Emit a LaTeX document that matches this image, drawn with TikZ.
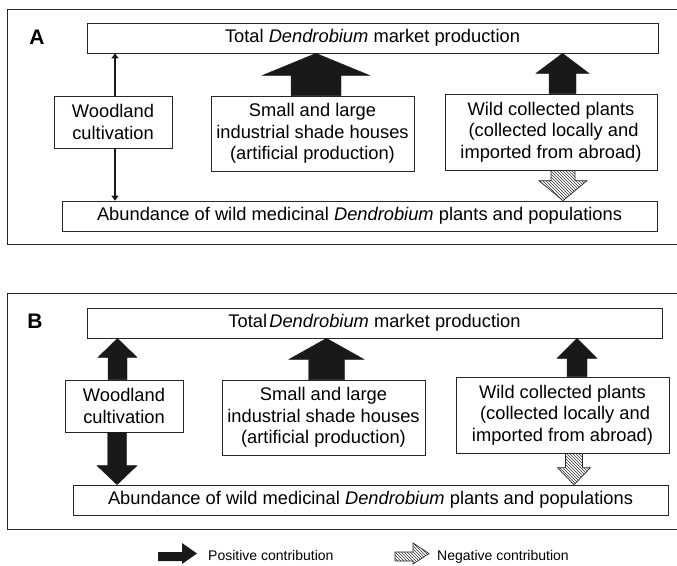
\documentclass[tikz,border=0pt]{standalone}
\usepackage{fontspec}
\setmainfont{Liberation Sans}
\usetikzlibrary{calc,patterns,arrows.meta}
\tikzset{
  box/.style={draw=black!85, line width=0.7pt, inner sep=0pt, align=center,
    font=\fontsize{18.3}{21.5}\selectfont},
  frame/.style={draw=black!85, line width=0.9pt},
  posarrow/.style={fill=black!90, draw=black!90, line width=0.4pt, line join=miter},
  negarrow/.style={draw=black!85, line width=0.7pt, fill=white, pattern=north west lines, pattern color=black!80, line join=miter},
  thinarrow/.style={draw=black!90, line width=2.6pt, -{Triangle[width=7pt,length=5pt]}},
  panel/.style={font=\fontsize{21}{24}\selectfont\bfseries},
  legendtext/.style={font=\fontsize{14}{16}\selectfont, anchor=base west, inner sep=0pt}
}
% #1 style, #2 x, #3 tail point, #4 tip point, #5 shaft half width, #6 head half width, #7 head length
\newcommand\blockarrow[7]{%
  \path[#1] let \p1=(#3), \p2=(#4), \n1={sign(\y2-\y1)} in
   ({#2pt-#5pt},\y1) -- ({#2pt-#5pt},{\y2-\n1*#7pt}) -- ({#2pt-#6pt},{\y2-\n1*#7pt})
   -- (#2pt,\y2) -- ({#2pt+#6pt},{\y2-\n1*#7pt}) -- ({#2pt+#5pt},{\y2-\n1*#7pt})
   -- ({#2pt+#5pt},\y1) -- cycle;}
\begin{document}
\begin{tikzpicture}[x=1pt,y=-1pt]
\useasboundingbox (0,0) rectangle (677,565);
% ---------- Panel A ----------
\draw[frame] (680,9) -- (7,9) -- (7,244) -- (680,244);
\node[panel] (labA) at (37,37.5) {A};
\node[box, minimum width=571, minimum height=30] (topA) at (372.5,38)
  {Total \textit{Dendrobium} market production};
\node[box, minimum width=118, minimum height=52] (woodA) at (113,122)
  {Woodland\\cultivation};
\node[box, minimum width=203, minimum height=75] (smallA) at (312.5,133.5)
  {Small and large\\industrial shade houses\\(artificial production)};
\node[box, minimum width=212, minimum height=76] (wildA) at (551,132)
  {Wild collected plants\\\ (collected locally and\\imported from abroad)};
\node[box, minimum width=595, minimum height=30] (botA) at (359.5,216)
  {Abundance of wild medicinal \textit{Dendrobium} plants and populations};
\draw[thinarrow] (woodA.north -| 115,0) -- (topA.south -| 115,0);
\draw[thinarrow] (woodA.south -| 115,0) -- (botA.north -| 115,0);
\blockarrow{posarrow}{316}{smallA.north}{topA.south}{25}{53.5}{22}
\blockarrow{posarrow}{562.5}{wildA.north}{topA.south}{13.5}{26.5}{20}
\blockarrow{negarrow}{563}{wildA.south}{botA.north}{12}{24}{20}
% ---------- Panel B ----------
\draw[frame] (680,293) -- (7,293) -- (7,529) -- (680,529);
\node[panel] (labB) at (35,321) {B};
\node[box, minimum width=575, minimum height=30] (topB) at (374.5,323)
  {Total\hspace{0.12em}\textit{Dendrobium} market production};
\node[box, minimum width=118, minimum height=52] (woodB) at (124,406)
  {Woodland\\cultivation};
\node[box, minimum width=203, minimum height=75] (smallB) at (323.5,417.5)
  {Small and large\\industrial shade houses\\(artificial production)};
\node[box, minimum width=213, minimum height=76] (wildB) at (562.5,415)
  {Wild collected plants\\\ (collected locally and\\imported from abroad)};
\node[box, minimum width=595, minimum height=30] (botB) at (370.5,500)
  {Abundance of wild medicinal \textit{Dendrobium} plants and populations};
\blockarrow{posarrow}{117.5}{woodB.north}{topB.south}{9.5}{19.5}{19}
\blockarrow{posarrow}{117}{woodB.south}{botB.north}{9.5}{20}{19}
\blockarrow{posarrow}{326.5}{smallB.north}{topB.south}{18}{37.5}{21}
\blockarrow{posarrow}{577}{wildB.north}{topB.south}{10}{20}{20}
\blockarrow{negarrow}{574}{wildB.south}{botB.north}{8.5}{16.5}{17}
% ---------- Legend ----------
\fill[black!90] (158,552) -- (182,552) -- (182,543) -- (197,553.5) -- (182,564) -- (182,561) -- (158,561) -- cycle;
\node[legendtext] (lpos) at (208,560) {Positive contribution};
\path[negarrow] (395,552) -- (413,552) -- (413,543) -- (429,553.5) -- (413,564) -- (413,561) -- (395,561) -- cycle;
\node[legendtext] (lneg) at (437,560) {Negative contribution};
\end{tikzpicture}
\end{document}
